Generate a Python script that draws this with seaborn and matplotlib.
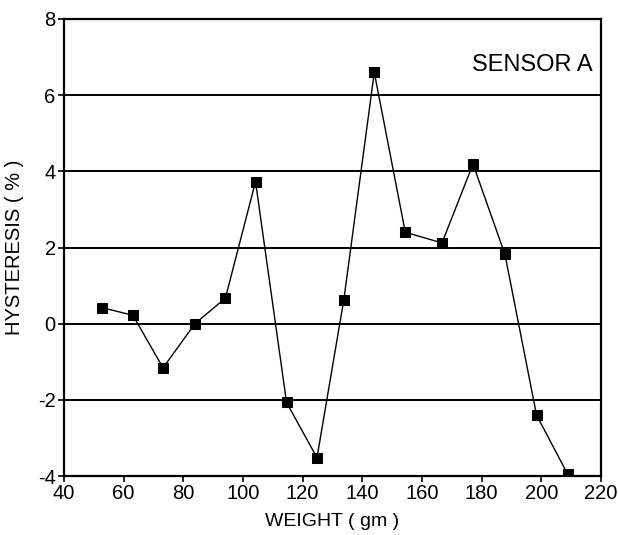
import matplotlib
matplotlib.use("Agg")
import matplotlib.pyplot as plt
import seaborn as sns
import pandas as pd

weight = [52.7, 63.1, 73.2, 83.9, 94.1, 104.2, 114.6, 124.8, 133.8, 144.0,
          154.4, 166.7, 177.1, 187.8, 198.4, 208.8]
hysteresis = [0.42, 0.22, -1.16, 0.0, 0.67, 3.73, -2.07, -3.52, 0.63, 6.6,
              2.4, 2.12, 4.19, 1.82, -2.4, -3.95]
xticks = [40, 60, 80, 100, 120, 140, 160, 180, 200, 220]
yticks = [-4, -2, 0, 2, 4, 6, 8]

df = pd.DataFrame({"WEIGHT": weight, "HYSTERESIS": hysteresis})

sns.set_style("ticks")
plt.rcParams['font.family'] = ['Liberation Sans', 'DejaVu Sans']
plt.rcParams['axes.unicode_minus'] = False
plt.rcParams['text.color'] = 'black'
plt.rcParams['axes.labelcolor'] = 'black'
plt.rcParams['xtick.color'] = 'black'
plt.rcParams['ytick.color'] = 'black'

fig = plt.figure(figsize=(6.18, 5.35), dpi=100)
ax = fig.add_axes([64/618, 1 - 476/535, (601-64)/618, (476-19)/535])

for y in yticks:
    ax.axhline(y, color='black', lw=1.4, zorder=1)

sns.lineplot(data=df, x="WEIGHT", y="HYSTERESIS", ax=ax, color='black',
             lw=1.0, marker='s', markersize=7.5, markeredgecolor='black',
             markerfacecolor='black', zorder=3)

ax.set_xlim(40, 220)
ax.set_ylim(-4, 8)
ax.set_xticks(xticks)
ax.set_yticks(yticks)
ax.tick_params(labelsize=14.5, direction='out', length=4, width=1.2,
               color='black', labelcolor='black', pad=2)
for s in ax.spines.values():
    s.set_linewidth(1.6)
    s.set_color('black')
ax.set_xlabel("WEIGHT ( gm )", fontsize=14, labelpad=7, color='black')
ax.set_ylabel("HYSTERESIS ( % )", fontsize=14.5, labelpad=10, color='black')
ax.text(0.985, 0.9, "SENSOR A", transform=ax.transAxes, ha='right', va='center',
        fontsize=17, color='black')

fig.savefig("out.png", dpi=100)
